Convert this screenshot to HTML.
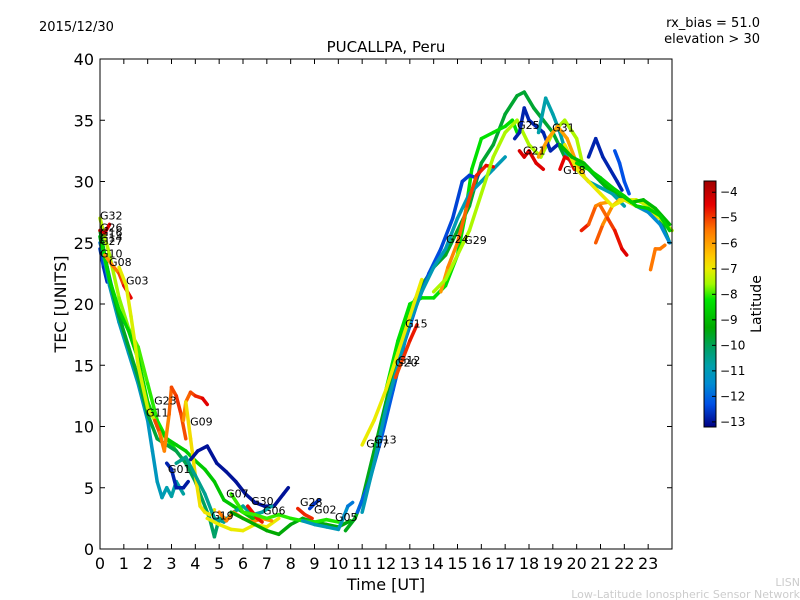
<!DOCTYPE html>
<html><head><meta charset="utf-8"><style>
html,body{margin:0;padding:0;background:#fff;}
svg{display:block;font-family:"DejaVu Sans","Liberation Sans",sans-serif;}
</style></head><body>
<svg id="c" width="800" height="600" viewBox="0 0 800 600">
<text x="39" y="31" font-size="13">2015/12/30</text>
<text x="760" y="27" font-size="13" text-anchor="end">rx_bias = 51.0</text>
<text x="760" y="43" font-size="13" text-anchor="end">elevation &gt; 30</text>
<text x="386" y="52" font-size="15" text-anchor="middle">PUCALLPA, Peru</text>
<text x="386" y="590" font-size="16" text-anchor="middle">Time [UT]</text>
<text x="0" y="0" font-size="16" text-anchor="middle" transform="translate(66,304) rotate(-90)">TEC [UNITS]</text>
<text x="800" y="586" font-size="11" fill="#ccc" text-anchor="end">LISN</text>
<text x="800" y="598" font-size="11" fill="#ccc" text-anchor="end">Low-Latitude Ionospheric Sensor Network</text>
<g id="marks"></g>
<g id="axes"></g>
</svg>
<script>
const xTicks=[0,1,2,3,4,5,6,7,8,9,10,11,12,13,14,15,16,17,18,19,20,21,22,23];
const yTicks=[0,5,10,15,20,25,30,35,40];
const cbTicks=[-4,-5,-6,-7,-8,-9,-10,-11,-12,-13];
const tracks=[
{t:[0,0.15,0.3],v:[24.5,23,21.8],lat:[-12.3,-12.5,-12.8]},
{t:[0,0.3,0.6,0.9,1.0],v:[25,23,20.5,18.5,17.4],lat:[-11.5,-12,-12.3,-12.6,-12.8]},
{t:[0,0.4,0.8,1.2,1.6,2,2.4,2.8,3.2],v:[27,24,20.5,18,16.5,13.5,10.5,9,8],lat:[-7.3,-7.5,-7.6,-7.8,-7.9,-8,-8.1,-8.2,-8.3]},
{t:[0,0.4,0.8,1.2,1.6,2,2.2,2.4,2.6,2.8,3.0,3.2,3.5],v:[25.5,21.5,18.5,16,13.5,10.5,8,5.5,4.2,5,4.3,5.5,4.5],lat:[-11,-11,-11,-11.1,-11.1,-11.2,-11.2,-11.1,-11,-10.9,-10.8,-10.7,-10.7]},
{t:[0,0.4,0.8,1.2,1.6,2,2.4,2.8,3.2,3.6,4,4.3,4.6,4.8,5,5.3],v:[26,22,19,16.5,14,11,9,8.5,8,7,5.5,4,2.5,1,2.5,2.5],lat:[-9.5,-9.5,-9.6,-9.6,-9.7,-9.7,-9.8,-9.8,-9.9,-9.9,-10,-10,-10.1,-10.1,-10.2,-10.2]},
{t:[0,0.4,0.8,1.2,1.6,2,2.4,2.8,3.2,3.6,4,4.4,4.8,5.2,5.6,6,6.4,6.8],v:[25.5,22,19.5,17.8,15.5,12,10,9,8.5,8,7.2,6.5,5.5,4,3.5,3,2.5,2.5],lat:[-8.5,-8.5,-8.5,-8.6,-8.6,-8.6,-8.6,-8.7,-8.7,-8.7,-8.7,-8.7,-8.8,-8.8,-8.8,-8.8,-8.8,-8.8]},
{t:[0.2,0.5,0.8,1.0,1.3],v:[24,23.2,22.5,21.5,20.5],lat:[-6,-5.8,-5.3,-4.8,-4.3]},
{t:[0,0.2,0.4],v:[26,25.8,26.5],lat:[-4.5,-4.5,-4.4]},
{t:[0.8,1.1,1.3,1.6,2,2.3,2.6],v:[23,21.5,19,15,11.5,10.5,9],lat:[-7,-7.1,-7.1,-7.2,-7.2,-7.3,-7.3]},
{t:[2.3,2.5,2.7,2.9,3.0,3.2,3.4,3.6],v:[10.5,9.5,8,11,13.2,12.5,11,9],lat:[-5,-5.2,-5.8,-5.5,-5.2,-5,-4.8,-5.5]},
{t:[3.5,3.6,3.8,4.0,4.3,4.5],v:[10.5,12,12.8,12.5,12.3,11.8],lat:[-6,-5.5,-5.2,-5,-4.6,-4.3]},
{t:[3.6,3.8,4,4.2,4.4,4.6,4.8],v:[12,9,6,3.5,3,2.8,3.2],lat:[-6.8,-6.8,-6.8,-6.9,-6.9,-6.9,-7]},
{t:[2.8,3.0,3.2,3.5,3.7],v:[7,6.5,5,5,5.5],lat:[-12.8,-12.8,-12.8,-12.9,-12.9]},
{t:[3.8,4.1,4.5,4.9,5.3,5.7,6.1,6.5,6.9,7.3,7.7,7.9],v:[7.3,8.0,8.4,7.0,6.3,5.5,4.5,3.8,3.5,3.5,4.5,5.0],lat:[-13,-13,-13,-13,-13,-13,-13,-13,-13,-13,-13,-13]},
{t:[3.2,3.6,4,4.4,4.8,5.2,5.6,6,6.4,6.8,7.2],v:[7,7.5,6,4.5,2.5,2.2,3,3.5,2.8,3,3.5],lat:[-10.5,-10.5,-10.5,-10.5,-10.6,-10.6,-10.6,-10.6,-10.7,-10.7,-10.7]},
{t:[4.5,5,5.5,6,6.5,7,7.5],v:[2.5,2,1.6,1.5,2,1.8,2.5],lat:[-7,-7,-7,-7,-7,-7,-7]},
{t:[5,5.3,5.6,6,6.4,6.8,7.2],v:[3,2.3,3,2.5,2.2,2.5,2.3],lat:[-5.5,-5.6,-5.6,-5.7,-5.7,-5.8,-5.8]},
{t:[6.2,6.4,6.6,6.8],v:[3.5,3,2.5,2.2],lat:[-4.6,-4.6,-4.7,-4.7]},
{t:[5.5,6,6.5,7,7.5,8,8.5,9,9.5,10,10.5],v:[3,2.5,2,1.5,1.2,2,2.5,2.2,2,1.8,2.3],lat:[-9.3,-9.3,-9.3,-9.3,-9.3,-9.4,-9.4,-9.4,-9.4,-9.4,-9.4]},
{t:[5.5,6,6.5,7,7.5,8,8.5,9,9.5,10],v:[4.5,3,2.8,2.5,2.8,2.5,2.3,2.2,2.4,2.2],lat:[-8,-8,-8,-8,-8,-8.1,-8.1,-8.1,-8.1,-8.1]},
{t:[8.3,8.6,8.9],v:[3.3,2.8,2.5],lat:[-4.8,-4.8,-4.9]},
{t:[8.8,9.0,9.2],v:[3.3,3.7,4],lat:[-12.5,-12.6,-12.7]},
{t:[8.5,9,9.5,10,10.2,10.4,10.6],v:[2.3,2.0,1.8,1.6,2.5,3.5,3.8],lat:[-11,-11,-11,-11,-11.2,-11.5,-12]},
{t:[10.3,10.7,11,11.5,12,12.5,13,13.5,14,14.5,15,15.5,16,16.5,17,17.5,17.8,18.2,18.6,19,19.5,20,20.5,21,21.5,22,22.5,23,23.5,23.9],v:[1.5,2.5,4,8,12,16,19.5,21.5,23,24,26,28,31.5,33,35.5,37,37.3,36,35,34,32,31.5,31,30,29,28.5,28,27.5,27,25],lat:[-9.5,-9.5,-9.5,-9.5,-9.5,-9.6,-9.6,-9.6,-9.6,-9.6,-9.6,-9.6,-9.7,-9.7,-9.7,-9.7,-9.7,-9.7,-9.7,-9.7,-9.7,-9.8,-9.8,-9.8,-9.8,-9.8,-9.8,-9.8,-9.8,-9.8]},
{t:[12,12.5,13,13.5,14,14.5,15,15.3,15.6,16,16.5,17,17.3,17.5],v:[13,17,20,20.5,20.5,21.5,24,27,31,33.5,34,34.5,35,34],lat:[-8.3,-8.3,-8.3,-8.3,-8.3,-8.3,-8.3,-8.3,-8.3,-8.3,-8.3,-8.3,-8.3,-8.3]},
{t:[10.8,11.3,11.8,12.3,12.8,13.3,13.8,14.3,14.8,15.2,15.5,15.8,16.0],v:[3,5.5,9,13,17,20,22.5,24.5,27,30,30.5,30.3,31],lat:[-12,-12.1,-12.1,-12.2,-12.2,-12.3,-12.3,-12.4,-12.4,-12.5,-12.5,-12.6,-12.6]},
{t:[11,11.5,12,12.5,13,13.5,14,14.5,15,15.5,16,16.5,17],v:[3,7,11.5,15,18.5,21,23,24.5,27,29,30,31,32],lat:[-11,-11,-11,-11,-11,-11,-11,-11,-11,-11,-11,-11,-11]},
{t:[11,11.5,12,12.5,13,13.5],v:[8.5,10.5,13,16,19,22],lat:[-7,-7,-7,-7,-7,-7]},
{t:[12.4,12.7,13,13.3],v:[14,15.5,17,18.3],lat:[-5.2,-5,-4.8,-4.6]},
{t:[14.3,14.6,15,15.4,15.8,16.2,16.5],v:[21,23,25,28,30.5,31.3,31.2],lat:[-6,-5.8,-5.5,-5.2,-4.9,-4.6,-4.5]},
{t:[14,14.5,15,15.5,16,16.5,17,17.5,18,18.5,19,19.5,20,20.3],v:[21,22,24,26,29,32,34,35,33,32,34,35,33.5,31],lat:[-7.5,-7.5,-7.5,-7.5,-7.5,-7.5,-7.5,-7.5,-7.5,-7.5,-7.5,-7.5,-7.5,-7.5]},
{t:[17.4,17.6,17.8,18,18.3,18.6,18.9,19.2],v:[33.5,34,36,35,34.5,34,32.5,33],lat:[-12.8,-12.8,-12.8,-12.8,-12.8,-12.8,-12.8,-12.8]},
{t:[18.4,18.7,19,19.3,19.6,20,20.5,21,21.5,22],v:[34,36.8,35.5,34,32,31,30,29.5,29,28],lat:[-10.8,-10.8,-10.8,-10.8,-10.8,-10.8,-10.8,-10.8,-10.8,-10.8]},
{t:[17.6,17.8,18,18.3,18.6],v:[32.5,32,32.5,31.5,31],lat:[-4.3,-4.3,-4.3,-4.4,-4.4]},
{t:[18.4,18.8,19.2,19.6,20,20.3],v:[32,33.5,34.5,33.5,31.5,30.5],lat:[-6,-6,-6,-6,-6,-6]},
{t:[19.3,19.5,19.7,19.9],v:[31,32,31.8,31],lat:[-4.5,-4.5,-4.5,-4.6]},
{t:[20.5,20.8,21.1,21.4,21.7,21.9],v:[32,33.5,32,31,30,29.3],lat:[-12.8,-12.8,-12.8,-12.8,-12.8,-12.8]},
{t:[21.6,21.8,22,22.2],v:[32.5,31.5,30,29],lat:[-12.3,-12.3,-12.3,-12.3]},
{t:[20.2,20.5,20.8,21,21.3],v:[26,26.5,28,28.2,28.3],lat:[-4.5,-5,-5.5,-5.8,-6]},
{t:[20.8,21.1,21.5,21.8,22.1,22.5,23,23.5,24],v:[25,26.5,28,28.5,28.5,28.5,28,27,26],lat:[-5,-5.5,-6,-6.5,-7,-7.2,-7.4,-7.5,-7.5]},
{t:[21,21.3,21.6,21.9,22.1],v:[28,27,26,24.5,24],lat:[-5.5,-5.2,-4.8,-4.5,-4.3]},
{t:[19.5,20,20.5,21,21.5,22,22.5,23,23.5],v:[33,31,30,29,28,28.5,28,27.5,27],lat:[-7,-7,-7,-7,-7,-7,-7,-7,-7]},
{t:[23.1,23.3,23.5,23.7],v:[22.8,24.5,24.5,24.8],lat:[-5.5,-5.5,-5.5,-5.5]},
{t:[22.5,23,23.5,23.9],v:[28,27.5,26.5,25],lat:[-11.5,-11.5,-11.5,-11.5]},
{t:[19.3,19.8,20.3,20.8,21.3,21.8,22.3,22.8,23.3,23.9],v:[33,32,31.5,30.5,29.5,29,28.3,28.5,27.8,26.5],lat:[-9,-9,-9,-9,-9,-9,-9,-9,-9,-9]},
{t:[20,20.5,21,21.5,22,22.5,23,23.5,23.9],v:[31.5,31,30.3,29.5,28.8,28,27.8,27.2,26],lat:[-8.6,-8.6,-8.6,-8.6,-8.6,-8.6,-8.6,-8.6,-8.6]}
];
const labelNames=["G32","G26","G16","G14","G27","G10","G08","G03","G23","G11","G09","G01","G07","G30","G06","G19","G28","G02","G05","G17","G13","G20","G12","G15","G24","G29","G25","G21","G31","G18"];
const labelT=[0,0,0,0,0,0,0.38,1.09,2.27,1.93,3.78,2.85,5.29,6.34,6.84,4.66,8.39,8.98,9.86,11.17,11.5,12.38,12.5,12.8,14.52,15.28,17.5,17.75,18.97,19.43];
const labelV=[26.9,25.9,25.5,25.1,24.8,23.8,23.1,21.6,11.8,10.8,10.1,6.2,4.2,3.6,2.8,2.4,3.5,2.9,2.3,8.3,8.6,14.9,15.1,18.1,25.0,24.9,34.3,32.2,34.1,30.6];
const X0=100,X1=672,Y0=549,Y1=59;
const xs=h=>X0+h*(X1-X0)/24;
const ys=v=>Y0-v*(Y0-Y1)/40;
const stops=[[-3.56,[160,0,0]],[-4.5,[230,0,0]],[-5.5,[255,120,0]],[-6.5,[255,200,0]],[-7.0,[235,235,0]],[-7.6,[160,250,0]],[-8.2,[0,230,0]],[-9.3,[0,170,0]],[-10.2,[0,160,110]],[-10.8,[0,160,170]],[-11.5,[0,140,210]],[-12.3,[0,80,230]],[-13.2,[0,0,130]]];
function col(l){
 if(l>=stops[0][0])return `rgb(${stops[0][1]})`;
 for(let i=1;i<stops.length;i++){
  if(l>=stops[i][0]){const a=stops[i-1],b=stops[i],f=(a[0]-l)/(a[0]-b[0]);
   const c=a[1].map((q,k)=>Math.round(q+(b[1][k]-q)*f));return `rgb(${c})`;}
 }
 return `rgb(${stops[stops.length-1][1]})`;
}
const NS="http://www.w3.org/2000/svg";
function mk(tag,at,parent){const e=document.createElementNS(NS,tag);for(const k in at)e.setAttribute(k,at[k]);parent.appendChild(e);return e;}
const marks=document.getElementById('marks');
tracks.forEach((tr,ti)=>{
 const g=mk('g',{},marks);
 
 
 for(let i=0;i<tr.t.length-1;i++){
  const s=mk('line',{x1:xs(tr.t[i]),y1:ys(tr.v[i]),x2:xs(tr.t[i+1]),y2:ys(tr.v[i+1]),stroke:col((tr.lat[i]+tr.lat[i+1])/2),'stroke-width':3.5,'stroke-linecap':'round'},g);
  
  
 }
});
labelNames.forEach((n,i)=>{
 const t=mk('text',{x:xs(labelT[i]),y:ys(labelV[i]),'font-size':11},marks);
 t.textContent=n;
 
 
});
const axes=document.getElementById('axes');
const frame=mk('rect',{x:X0,y:Y1,width:X1-X0,height:Y0-Y1,fill:'none',stroke:'#000','stroke-width':1},axes);


xTicks.forEach(h=>{
 const x=xs(h);
 mk('line',{x1:x,y1:Y0,x2:x,y2:Y0-5,stroke:'#000'},axes);
 mk('line',{x1:x,y1:Y1,x2:x,y2:Y1+5,stroke:'#000'},axes);
 const t=mk('text',{x:x,y:Y0+20,'font-size':16,'text-anchor':'middle'},axes);
 t.textContent=h;
 
 
});
yTicks.forEach(v=>{
 const y=ys(v);
 mk('line',{x1:X0,y1:y,x2:X0+5,y2:y,stroke:'#000'},axes);
 mk('line',{x1:X1,y1:y,x2:X1-5,y2:y,stroke:'#000'},axes);
 const t=mk('text',{x:X0-6,y:y+6,'font-size':16,'text-anchor':'end'},axes);
 t.textContent=v;
 
 
});
const CB0=704,CB1=716,CT=181,CBt=427,LT=-3.56,LB=-13.2;
const cy=l=>CT+(LT-l)*(CBt-CT)/(LT-LB);
const cb=mk('g',{},axes);


for(let y=CT;y<CBt;y++){
 const l=LT-(y-CT+0.5)*(LT-LB)/(CBt-CT);
 mk('rect',{x:CB0,y:y,width:CB1-CB0,height:1.2,fill:col(l)},cb);
}
mk('rect',{x:CB0,y:CT,width:CB1-CB0,height:CBt-CT,fill:'none',stroke:'#000'},cb);
cbTicks.forEach(l=>{
 const y=cy(l);
 mk('line',{x1:CB1-4,y1:y,x2:CB1,y2:y,stroke:'#000'},cb);
 const t=mk('text',{x:CB1+4,y:y+4,'font-size':12},cb);
 t.textContent='\u2212'+Math.abs(l);
 
 
});
const ct=mk('text',{x:0,y:0,'font-size':14,'text-anchor':'middle',transform:'translate(761,304) rotate(-90)'},cb);
ct.textContent='Latitude';


</script>
</body></html>
